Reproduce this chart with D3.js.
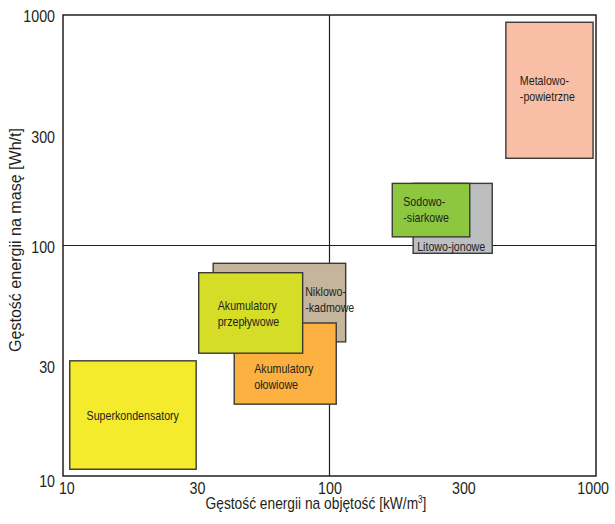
<!DOCTYPE html>
<html>
<head>
<meta charset="utf-8">
<script src="https://cdn.jsdelivr.net/npm/d3@7"></script>
<style>
  body { margin: 0; background: #fff; }
  text { font-family: "Liberation Sans", Arial, sans-serif; fill: #231f20; }
</style>
</head>
<body>
<svg id="chart" width="615" height="524"></svg>
<script>
// energy storage technologies: x = kW/m3, y = Wh/t (log-log)
const names = ['Niklowo-kadmowe', 'Akumulatory ołowiowe', 'Akumulatory przepływowe',
  'Superkondensatory', 'Litowo-jonowe', 'Sodowo-siarkowe', 'Metalowo-powietrzne'];
const xMin = [36.6, 43.9, 32.3, 10.6, 206, 172, 459];
const xMax = [115, 106, 79.3, 31.6, 408, 336, 975];
const yMin = [38.2, 20.5, 34.1, 10.7, 92.5, 109, 239];
const yMax = [83.7, 46.1, 76.2, 31.6, 186, 186, 930];
const labelLines = [
  ['Niklowo-', '-kadmowe'],
  ['Akumulatory', 'ołowiowe'],
  ['Akumulatory', 'przepływowe'],
  ['Superkondensatory'],
  ['Litowo-jonowe'],
  ['Sodowo-', '-siarkowe'],
  ['Metalowo-', '-powietrzne']
];
const xTicks = [10, 30, 100, 300, 1000];
const yTicks = [10, 30, 100, 300, 1000];

const colors = ['#c5b59d', '#fbb040', '#d5dd26', '#f3eb2c', '#bcbec0', '#8dc63f', '#f9bfa6'];
// label placement in px relative to box left and top (first baseline)
const labelPos = [
  { dx: 92, dy: 33, anchor: 'start' },
  { dx: 20, dy: 50, anchor: 'start' },
  { dx: 19, dy: 37, anchor: 'start' },
  { dx: 63, dy: 59, anchor: 'middle' },
  { dx: 4, dy: 68, anchor: 'start' },
  { dx: 11, dy: 23, anchor: 'start' },
  { dx: 14, dy: 63, anchor: 'start' }
];
const narrow = 0.82; // reference uses a condensed face

const svg = d3.select('#chart');
const m = { left: 63, right: 596, top: 15, bottom: 476 };

const x = d3.scaleLog().domain([10, 1000]).range([m.left, m.right]);
const y = d3.scaleLog().domain([10, 1000]).range([m.bottom, m.top]);

// cross lines at 100/100
svg.append('line')
  .attr('x1', x(100)).attr('x2', x(100))
  .attr('y1', m.top).attr('y2', m.bottom)
  .attr('stroke', '#231f20').attr('stroke-width', 1.2);
svg.append('line')
  .attr('x1', m.left).attr('x2', m.right)
  .attr('y1', y(100)).attr('y2', y(100))
  .attr('stroke', '#231f20').attr('stroke-width', 1.2);

const boxes = svg.append('g').selectAll('g')
  .data(names)
  .join('g');

boxes.append('rect')
  .attr('x', (d, i) => x(xMin[i]))
  .attr('y', (d, i) => y(yMax[i]))
  .attr('width', (d, i) => x(xMax[i]) - x(xMin[i]))
  .attr('height', (d, i) => y(yMin[i]) - y(yMax[i]))
  .attr('fill', (d, i) => colors[i])
  .attr('stroke', '#3a3a36')
  .attr('stroke-width', 1.4);

boxes.append('text')
  .attr('font-size', 13)
  .attr('text-anchor', (d, i) => labelPos[i].anchor)
  .attr('transform', (d, i) =>
    `translate(${x(xMin[i]) + labelPos[i].dx},${y(yMax[i]) + labelPos[i].dy}) scale(${narrow},1)`)
  .selectAll('tspan')
  .data((d, i) => labelLines[i])
  .join('tspan')
  .attr('x', 0)
  .attr('y', (d, k) => k * 16)
  .text(d => d);

// frame
svg.append('rect')
  .attr('x', m.left).attr('y', m.top)
  .attr('width', m.right - m.left).attr('height', m.bottom - m.top)
  .attr('fill', 'none').attr('stroke', '#231f20').attr('stroke-width', 1.5);

const xAxis = svg.append('g')
  .attr('transform', `translate(0,${m.bottom})`)
  .call(d3.axisBottom(x).tickValues(xTicks).tickFormat(d3.format('d')).tickSize(0).tickPadding(6));
xAxis.select('.domain').remove();
xAxis.selectAll('text').attr('font-size', 17).attr('fill', '#231f20')
  .attr('transform', 'scale(0.84,1)')
  .attr('dx', d => d === 10 ? 4 : d === 1000 ? -4 : d === 30 || d === 300 ? 8 : 0);

const yAxis = svg.append('g')
  .attr('transform', `translate(${m.left},0)`)
  .call(d3.axisLeft(y).tickValues(yTicks).tickFormat(d3.format('d')).tickSize(0));
yAxis.select('.domain').remove();
yAxis.selectAll('text').attr('font-size', 17).attr('fill', '#231f20')
  .attr('x', -9.5)
  .attr('dy', d => d === 10 ? '0.6em' : '0.4em')
  .attr('transform', 'scale(0.84,1)');

svg.append('text')
  .attr('transform', 'translate(316,509) scale(0.81,1)')
  .attr('text-anchor', 'middle')
  .attr('font-size', 17)
  .html('Gęstość energii na objętość [kW/m<tspan font-size="10" dy="-6">3</tspan><tspan dy="6">]</tspan>');

svg.append('text')
  .attr('transform', 'translate(21,240) rotate(-90)')
  .attr('text-anchor', 'middle')
  .attr('font-size', 17)
  .attr('textLength', 224)
  .attr('lengthAdjust', 'spacingAndGlyphs')
  .text('Gęstość energii na masę [Wh/t]');
</script>
</body>
</html>
